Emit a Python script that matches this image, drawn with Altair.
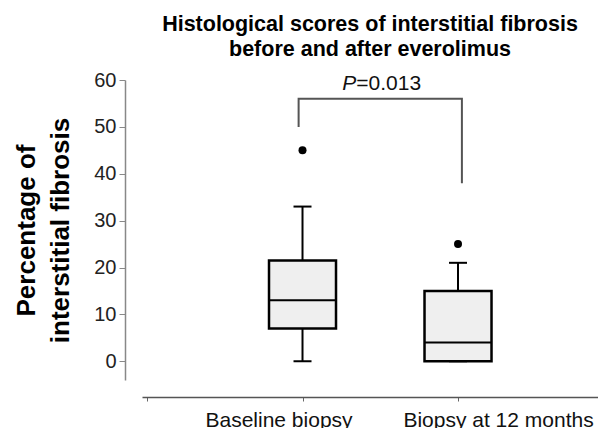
import altair as alt
import pandas as pd

# ---- data ----
categories = ["Baseline biopsy", "Biopsy at 12 months"]
whisker_low = [0, 0]
q1 = [7, 0]
median = [13, 4]
q3 = [21.5, 15]
whisker_high = [33, 21]
outliers = [45, 25]

title_lines = ["Histological scores of interstitial fibrosis", "before and after everolimus"]
y_title = ["Percentage of", "interstitial fibrosis"]
y_ticks = [0, 10, 20, 30, 40, 50, 60]
p_italic = "P"
p_rest = "=0.013"
bracket_y = [50, 56, 56, 38]  # left foot, top-left, top-right, right foot

FONT = "Liberation Sans"

df = pd.DataFrame({
    "category": categories,
    "lo": whisker_low,
    "q1": q1,
    "med": median,
    "q3": q3,
    "hi": whisker_high,
    "out": outliers,
})
df["pos"] = range(1, len(df) + 1)

spread = 0.025
bracket_df = pd.DataFrame({
    "pos": [1 - spread, 1 - spread, 2 + spread, 2 + spread],
    "y": bracket_y,
    "order": [0, 1, 2, 3],
})
ptext_df = pd.DataFrame({"pos": [1.5], "y": [bracket_y[1]], "a": [p_italic], "b": [p_rest]})

label_expr = (
    "datum.value >= 1 ? ["
    + ",".join("'" + c + "'" for c in categories)
    + "][datum.value - 1] : ''"
)

x_axis = alt.Axis(
    title=None, values=[0, 1, 2], labelExpr=label_expr, grid=False,
    labelFontSize=21, labelFont=FONT, labelColor="#111", labelPadding=8,
    labelLimit=500,
    labelOffset={"condition": {"test": "datum.value == 1", "value": -24}, "value": 40},
    tickSize=4, tickColor="#666", domainColor="#555", domainWidth=1.5,
    offset=17,
)
y_axis = alt.Axis(
    title=y_title, titleFontSize=26, titleFont=FONT, titleFontWeight="bold",
    titleLineHeight=34, titlePadding=20, titleColor="#000",
    values=y_ticks, labelFontSize=20, labelFont=FONT, labelColor="#222",
    labelPadding=3, tickSize=6, tickColor="#888", domainColor="#888",
    domainWidth=1.5, grid=False, offset=17,
)

xs = alt.Scale(domain=[0, 2.868], nice=False, zero=False)
ys = alt.Scale(domain=[-4, 60], nice=False, zero=False)

X = alt.X("pos:Q", scale=xs, axis=x_axis)

base = alt.Chart(df)

low_whisker = base.mark_rule(color="black", strokeWidth=2).encode(
    x=X, y=alt.Y("lo:Q", scale=ys, axis=y_axis), y2="q1:Q")
high_whisker = base.mark_rule(color="black", strokeWidth=2).encode(
    x=X, y=alt.Y("q3:Q", scale=ys, axis=y_axis), y2="hi:Q")
cap_low = base.mark_tick(orient="horizontal", size=18, thickness=2, color="black", opacity=1).encode(
    x=X, y=alt.Y("lo:Q", scale=ys, axis=y_axis))
cap_high = base.mark_tick(orient="horizontal", size=18, thickness=2, color="black", opacity=1).encode(
    x=X, y=alt.Y("hi:Q", scale=ys, axis=y_axis))
box = base.mark_bar(size=67, fill="#efefef", stroke="black", strokeWidth=2.5, orient="vertical").encode(
    x=X, y=alt.Y("q1:Q", scale=ys, axis=y_axis), y2="q3:Q")
med = base.mark_tick(orient="horizontal", size=67, thickness=2, color="black", opacity=1).encode(
    x=X, y=alt.Y("med:Q", scale=ys, axis=y_axis))
outl = base.mark_circle(size=64, color="black", opacity=1).encode(
    x=X, y=alt.Y("out:Q", scale=ys, axis=y_axis))

bracket = alt.Chart(bracket_df).mark_line(color="#555", strokeWidth=2).encode(
    x=X, y=alt.Y("y:Q", scale=ys, axis=y_axis), order="order:Q")

p_a = alt.Chart(ptext_df).mark_text(
    align="right", baseline="alphabetic", dx=-24, dy=-9, fontSize=21,
    font=FONT, fontStyle="italic", color="#111").encode(
    x=X, y=alt.Y("y:Q", scale=ys, axis=y_axis), text="a:N")
p_b = alt.Chart(ptext_df).mark_text(
    align="left", baseline="alphabetic", dx=-24, dy=-9, fontSize=21,
    font=FONT, color="#111").encode(
    x=X, y=alt.Y("y:Q", scale=ys, axis=y_axis), text="b:N")

chart = alt.layer(
    low_whisker, high_whisker, cap_low, cap_high, box, med, outl, bracket, p_a, p_b
).properties(
    width=456,
    height=300,
    padding={"left": 5, "top": 5, "right": 0, "bottom": 0},
    title=alt.TitleParams(
        text=title_lines, fontSize=21.5, fontWeight="bold", font=FONT,
        lineHeight=25, anchor="middle", offset=10, color="#000", dx=0,
    ),
).configure(background="white").configure_view(stroke=None)

chart.save("out.html", embed_options={"renderer": "svg", "actions": False})
